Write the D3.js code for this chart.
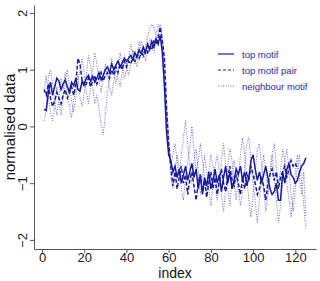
<!DOCTYPE html>
<html><head><meta charset="utf-8">
<script src="https://cdn.jsdelivr.net/npm/d3@7"></script>
<style>body{margin:0;background:#fff}svg{display:block}</style>
</head><body>
<script>
const xTicks=[0,20,40,60,80,100,120];
const yTicks=[-2,-1,0,1,2];
const seriesNames=["top motif","top motif pair","neighbour motif"];
const topMotif=[0.3,0.28,0.6,0.78,0.55,0.7,0.85,0.8,0.65,0.75,
0.82,0.7,0.6,0.78,0.72,0.85,0.65,0.62,0.8,0.75,
0.85,0.9,0.8,0.88,0.78,0.85,0.95,0.82,0.9,1.0,
1.05,0.95,1.1,1.0,1.08,1.15,1.05,1.12,1.2,1.15,
1.2,1.25,1.18,1.3,1.22,1.35,1.28,1.4,1.3,1.45,
1.35,1.5,1.4,1.55,1.45,1.6,1.3,0.7,-0.1,-0.5,-0.6,-0.8,
-0.7,-0.9,-0.75,-1.0,-0.85,-0.7,-0.95,-0.8,-0.65,-0.9,
-0.75,-1.1,-0.85,-1.2,-0.9,-1.05,-0.8,-1.1,-0.95,-0.75,
-1.0,-0.85,-1.15,-0.9,-0.7,-1.0,-0.8,-1.1,-0.95,-0.75,
-0.85,-0.7,-0.95,-0.8,-1.05,-0.9,-0.6,-0.5,-0.75,-0.95,
-0.8,-1.0,-0.85,-0.7,-0.9,-1.1,-1.2,-1.15,-1.0,-1.3,
-1.3,-0.8,-1.0,-0.75,-0.65,-0.85,-0.9,-1.0,-0.95,-0.8,-0.7,-0.65,-0.55];
const topMotifPair=[0.65,0.55,0.75,0.5,0.35,0.45,0.6,0.5,0.4,0.55,
0.65,0.5,0.6,0.7,0.55,0.75,1.2,1.1,0.8,0.7,
0.75,0.85,0.7,0.8,0.9,0.75,0.85,0.95,0.8,0.9,
0.95,0.85,1.0,0.9,1.05,0.95,1.1,1.0,1.15,1.05,
1.15,1.1,1.2,1.15,1.25,1.2,1.3,1.25,1.35,1.3,
1.4,1.35,1.5,1.45,1.55,1.75,1.5,1.2,0.3,-0.3,-0.7,-1.05,
-0.8,-1.1,-0.9,-0.7,-1.0,-0.85,-1.2,-0.95,-0.8,-1.05,
-1.3,-1.0,-0.85,-1.15,-0.95,-1.25,-1.0,-0.8,-1.1,-0.9,
-1.2,-0.95,-0.75,-1.0,-1.15,-0.9,-0.7,-0.95,-1.05,-0.85,
-1.0,-1.2,-0.9,-1.1,-0.8,-0.95,-0.7,-0.85,-1.0,-1.2,
-1.1,-0.9,-1.05,-1.3,-1.0,-0.85,-0.75,-0.95,-0.8,-1.1,
-0.9,-0.8,-0.7,-0.9,-0.75,-0.6,-0.7,-0.65,-0.75];
const neighbourA=[0.1,0.3,0.85,1.0,0.75,0.4,0.2,0.5,0.85,0.65,
0.95,0.55,0.35,0.15,0.45,0.7,0.9,0.5,0.35,0.6,
0.9,1.25,1.05,0.7,0.4,0.55,0.3,0.05,-0.15,0.2,
0.6,0.9,1.2,1.0,0.75,0.95,1.3,1.1,0.85,1.0,
1.2,1.45,1.3,1.1,1.25,1.5,1.35,1.2,1.4,1.6,
1.7,1.8,1.75,1.6,1.8,1.7,1.4,0.8,0.0,-0.4,-0.7,-0.5,
-0.3,-0.6,-0.9,-0.5,-0.2,0.1,-0.3,-0.7,-1.0,-0.6,
-0.4,-0.8,-1.2,-0.9,-0.5,-0.8,-1.1,-1.4,-1.0,-0.7,
-0.5,-0.8,-1.2,-1.5,-1.1,-0.7,-0.4,-0.6,-1.0,-1.3,
-0.9,-0.5,-0.2,-0.5,-0.9,-1.3,-1.6,-1.2,-0.8,-0.4,
-0.3,-0.7,-1.1,-1.5,-1.2,-0.8,-0.5,-0.9,-1.3,-1.7,
-1.4,-1.0,-0.6,-0.4,-0.8,-1.2,-1.5,-1.1,-0.7,-0.5,-1.0,-1.4,-1.8];
const neighbourB=[0.6,0.9,0.5,0.25,0.1,0.35,0.7,0.45,0.2,0.5,
0.8,1.0,0.7,0.45,0.25,0.5,0.8,1.0,1.2,0.9,
0.6,0.4,0.7,1.0,1.3,1.1,0.8,0.6,0.85,1.1,
0.9,0.7,0.55,0.8,1.0,0.85,0.7,0.95,1.25,1.1,
0.9,1.1,1.35,1.2,1.05,1.3,1.5,1.35,1.15,1.3,
1.55,1.4,1.3,1.5,1.65,1.8,1.6,1.0,0.4,-0.2,-0.9,-1.1,
-0.8,-0.5,-0.7,-1.1,-1.3,-0.9,-0.6,-0.4,0.0,-0.4,
-0.8,-0.6,-0.3,-0.6,-0.9,-1.2,-0.8,-0.5,-0.7,-1.0,
-1.3,-1.0,-0.6,-0.3,-0.7,-1.1,-1.4,-1.0,-0.6,-0.8,
-1.1,-1.4,-1.1,-0.7,-0.3,-0.2,-0.6,-1.0,-1.3,-1.7,
-1.3,-0.9,-0.5,-0.8,-1.2,-0.9,-0.5,-0.3,-0.7,-1.0,
-0.8,-0.4,-0.6,-1.0,-1.3,-1.6,-1.2,-0.8,-0.5,-0.9,-1.2,-0.8,-1.6];

const W=320,H=281;
const svg=d3.select("body").append("svg").attr("width",W).attr("height",H);
const x=d3.scaleLinear().domain([-3.8,129.8]).range([34,316]);
const y=d3.scaleLinear().domain([-2.16,2.14]).range([249,5]);
const font="Liberation Sans, Arial, sans-serif";
const blue="#1a1a9c";

const line=d3.line().x((d,i)=>x(i+1)).y(d=>y(d));
const nb=[neighbourA,neighbourB];
nb.forEach(s=>svg.append("path").datum(s).attr("d",line).attr("fill","none")
  .attr("stroke","#6b6bd0").attr("stroke-width",1).attr("stroke-dasharray","1,1.5"));
svg.append("path").datum(topMotifPair).attr("d",line).attr("fill","none")
  .attr("stroke",blue).attr("stroke-width",1.5).attr("stroke-dasharray","4,2");
svg.append("path").datum(topMotif).attr("d",line).attr("fill","none")
  .attr("stroke",blue).attr("stroke-width",1.5);

const ax=svg.append("g").attr("transform","translate(0,249)")
  .call(d3.axisBottom(x).tickValues(xTicks).tickSize(4).tickSizeOuter(0).tickPadding(0));
const ay=svg.append("g").attr("transform","translate(34,0)")
  .call(d3.axisLeft(y).tickValues(yTicks).tickSize(4).tickSizeOuter(0).tickFormat(d3.format("d")));
[ax,ay].forEach(g=>{g.select(".domain").attr("stroke","#555");g.selectAll(".tick line").attr("stroke","#555");
  g.selectAll("text").attr("font-family",font).attr("font-size",13).attr("fill","#222");});
ay.selectAll(".tick text").attr("text-anchor","middle").attr("dy",0).attr("x",0)
  .attr("transform","translate(-7,0) rotate(-90)");

svg.append("text").attr("x",175).attr("y",278).attr("text-anchor","middle")
  .attr("font-family",font).attr("font-size",14).attr("fill","#111").text("index");
svg.append("text").attr("transform","translate(15,127) rotate(-90)").attr("text-anchor","middle")
  .attr("font-family",font).attr("font-size",15).attr("fill","#111").text("normalised data");

const styles=[{w:1.2,d:null,c:blue},{w:1.2,d:"3,2",c:blue},{w:1,d:"1,1.5",c:"#6b6bd0"}];
const lg=svg.append("g");
seriesNames.forEach((n,i)=>{
  const yy=54+i*16;
  lg.append("line").attr("x1",218).attr("x2",234).attr("y1",yy).attr("y2",yy)
    .attr("stroke",styles[i].c).attr("stroke-width",styles[i].w).attr("stroke-dasharray",styles[i].d);
  lg.append("text").attr("x",242).attr("y",yy+3.5).attr("font-family",font).attr("font-size",9.5)
    .attr("fill","#2a2a9a").text(n);
});
</script>
</body></html>
